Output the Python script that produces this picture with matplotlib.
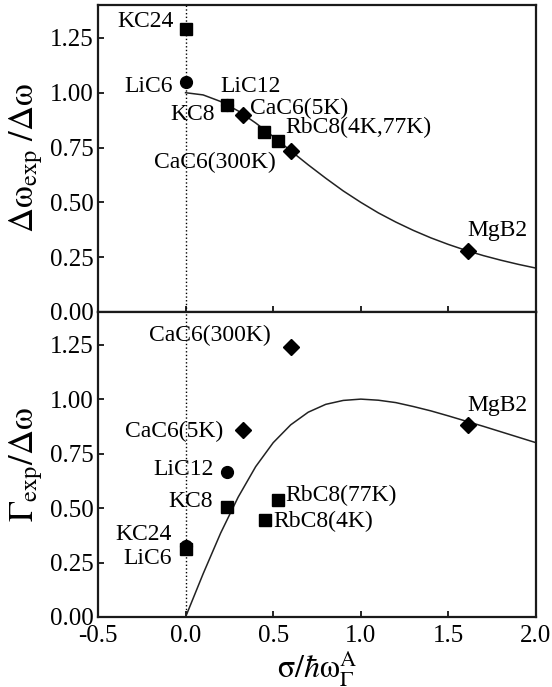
import matplotlib
matplotlib.use("Agg")
import matplotlib.pyplot as plt

plt.rcParams['font.family'] = ['Liberation Serif', 'DejaVu Serif']
plt.rcParams['mathtext.fontset'] = 'stix'

# theory curves at x = 0 .. 2 step 0.1
curve_x = [0.0, 0.1, 0.2, 0.3, 0.4, 0.5, 0.6, 0.7, 0.8, 0.9, 1.0,
           1.1, 1.2, 1.3, 1.4, 1.5, 1.6, 1.7, 1.8, 1.9, 2.0]
curve_top = [1.00, 0.99, 0.96, 0.917, 0.862, 0.80, 0.735, 0.671, 0.61, 0.552, 0.50,
             0.452, 0.41, 0.372, 0.338, 0.308, 0.281, 0.257, 0.236, 0.217, 0.20]
curve_bot = [0.0, 0.198, 0.385, 0.55, 0.69, 0.80, 0.882, 0.94, 0.976, 0.994, 1.00,
             0.995, 0.984, 0.966, 0.946, 0.923, 0.899, 0.875, 0.85, 0.825, 0.80]

# top panel points: (x, y)
top_sq_x = [0.0, 0.236, 0.45, 0.53]
top_sq_y = [1.29, 0.945, 0.82, 0.78]
top_ci_x = [0.0, 0.236]
top_ci_y = [1.05, 0.945]
top_di_x = [0.33, 0.60, 1.61]
top_di_y = [0.90, 0.735, 0.28]

top_labels = ['KC24', 'LiC6', 'LiC12', 'KC8', 'CaC6(5K)', 'RbC8(4K,77K)', 'CaC6(300K)', 'MgB2']
top_lab_x = [-0.07, -0.07, 0.196, 0.168, 0.37, 0.57, 0.165, 1.78]
top_lab_y = [1.325, 1.03, 1.03, 0.90, 0.93, 0.84, 0.68, 0.37]
top_lab_ha = ['right', 'right', 'left', 'right', 'left', 'left', 'center', 'center']

# bottom panel points
bot_sq_x = [0.0, 0.236, 0.53, 0.453]
bot_sq_y = [0.311, 0.504, 0.535, 0.446]
bot_ci_x = [0.0, 0.236]
bot_ci_y = [0.325, 0.665]
bot_di_x = [0.60, 0.33, 1.61]
bot_di_y = [1.24, 0.856, 0.882]

bot_labels = ['CaC6(300K)', 'CaC6(5K)', 'LiC12', 'KC8', 'KC24', 'LiC6', 'RbC8(77K)', 'RbC8(4K)', 'MgB2']
bot_lab_x = [0.14, 0.215, 0.158, 0.158, -0.08, -0.08, 0.57, 0.50, 1.78]
bot_lab_y = [1.29, 0.85, 0.675, 0.53, 0.377, 0.27, 0.56, 0.44, 0.97]
bot_lab_ha = ['center', 'right', 'right', 'right', 'right', 'right', 'left', 'left', 'center']

xticks = [-0.5, 0.0, 0.5, 1.0, 1.5, 2.0]
yticks = [0.0, 0.25, 0.5, 0.75, 1.0, 1.25]

fig = plt.figure(figsize=(5.52, 6.87), dpi=100)
ax1 = fig.add_axes([0.1775, 0.5459, 0.7935, 0.4468])
ax2 = fig.add_axes([0.1775, 0.1019, 0.7935, 0.4440])


def style(ax):
    ax.set_xlim(-0.5, 2.0)
    ax.set_ylim(0, 1.4)
    ax.set_xticks(xticks)
    ax.set_yticks(yticks)
    ax.tick_params(direction='in', length=4, width=1.2, labelsize=18, pad=3)
    ax.tick_params(axis='x', pad=6)
    for s in ax.spines.values():
        s.set_linewidth(1.6)
        s.set_color('#1a1a1a')
    ax.axvline(0, color='black', ls=':', lw=1.0, zorder=1)
    ax.yaxis.set_major_formatter(matplotlib.ticker.FormatStrFormatter('%.2f'))
    ax.xaxis.set_major_formatter(matplotlib.ticker.FormatStrFormatter('%.1f'))


style(ax1)
ax1.plot(curve_x, curve_top, color='#222222', lw=1.1, zorder=2)
ax1.plot(top_ci_x, top_ci_y, 'o', color='black', ms=8.5, ls='none', zorder=3)
ax1.plot(top_sq_x, top_sq_y, 's', color='black', ms=9, ls='none', zorder=4)
ax1.plot(top_di_x, top_di_y, 'D', color='black', ms=8, ls='none', zorder=4)
for t, x, y, ha in zip(top_labels, top_lab_x, top_lab_y, top_lab_ha):
    ax1.text(x, y, t, ha=ha, va='center', fontsize=17)
ax1.tick_params(labelbottom=False)
ax1.set_ylabel(r'$\mathrm{\Delta\omega_{exp}\ /\Delta\omega}$', fontsize=25, labelpad=4)

style(ax2)
ax2.plot(curve_x, curve_bot, color='#222222', lw=1.1, zorder=2)
ax2.plot(bot_ci_x, bot_ci_y, 'o', color='black', ms=8.5, ls='none', zorder=3)
ax2.plot(bot_sq_x, bot_sq_y, 's', color='black', ms=9, ls='none', zorder=4)
ax2.plot(bot_di_x, bot_di_y, 'D', color='black', ms=8, ls='none', zorder=4)
for t, x, y, ha in zip(bot_labels, bot_lab_x, bot_lab_y, bot_lab_ha):
    ax2.text(x, y, t, ha=ha, va='center', fontsize=17)
ax2.set_ylabel(r'$\mathrm{\Gamma_{exp}/\Delta\omega}$', fontsize=25, labelpad=4)
ax2.set_xlabel(r'$\mathrm{\sigma}/\hbar\mathrm{\omega}_\Gamma^{\rm A}$', fontsize=23, labelpad=1)

fig.savefig('out.png', dpi=100)
